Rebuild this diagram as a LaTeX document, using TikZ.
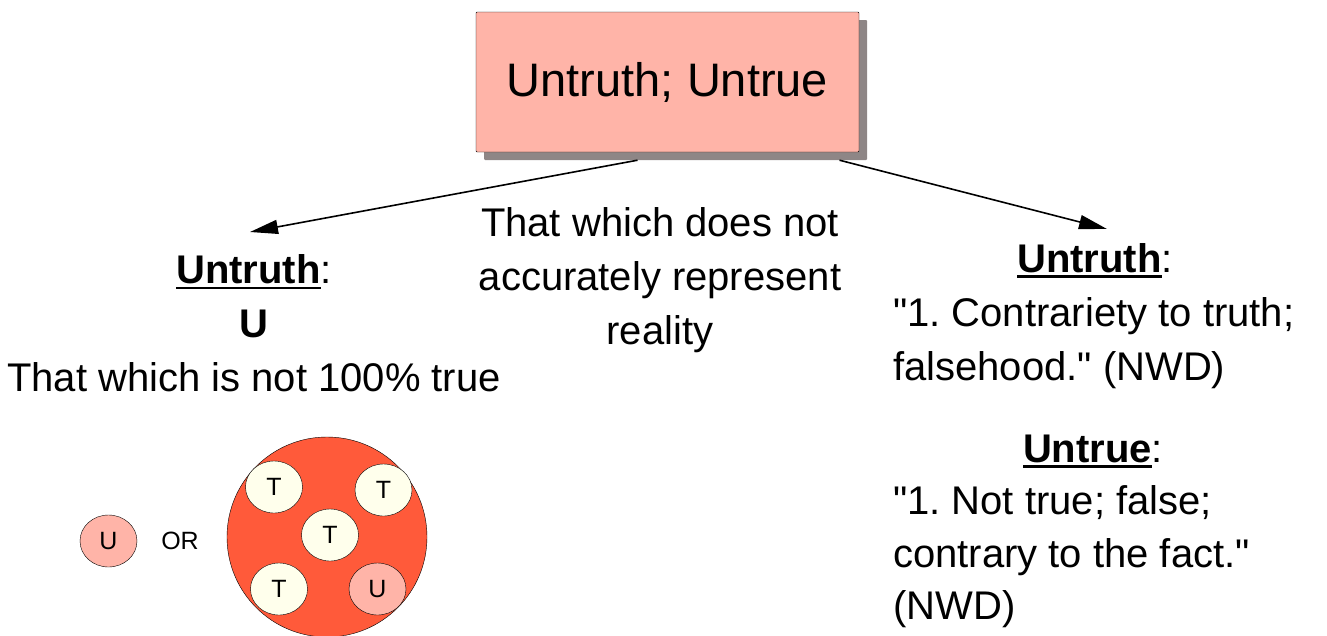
\documentclass[tikz,border=0pt]{standalone}
\usepackage{fontspec}
\setmainfont{Liberation Sans}
\usetikzlibrary{arrows.meta,shapes.geometric,shadows}
\definecolor{boxfill}{RGB}{255,180,168}
\definecolor{boxshadow}{RGB}{142,134,134}
\definecolor{setred}{RGB}{255,90,58}
\definecolor{truefill}{RGB}{255,255,236}
\newcommand\ulhead[1]{\setbox0\hbox{\bfseries #1}\rlap{\rule[-6pt]{\wd0}{2.6pt}}\box0}

\begin{document}
\begin{tikzpicture}[x=1pt,y=-1pt,
  title/.style = {draw, fill=boxfill, minimum width=383pt, minimum height=140pt,
    rounded corners=1pt,
    drop shadow={shadow xshift=8pt,shadow yshift=-8pt,fill=boxshadow,opacity=1},
    font=\fontsize{47}{56}\selectfont},
  body/.style = {font=\fontsize{40}{54}\selectfont\frenchspacing, inner sep=0pt},
  conn/.style = {line width=1.6pt, -{Triangle[length=28pt,width=14pt]}},
  smalltext/.style = {font=\fontsize{25}{30}\selectfont, inner sep=0pt},
  elem/.style = {ellipse, draw, thin, minimum width=57pt, minimum height=52pt,
    inner sep=0pt, font=\fontsize{25}{30}\selectfont},
  ]
  \useasboundingbox (0,0) rectangle (1327,635);

  \node[title] (top) at (667.5,82) {Untruth; Untrue};

  \coordinate (lefttip) at (250,232);
  \coordinate (righttip) at (1107,229);
  \draw[conn] ([shift={(-30,8)}]top.south) -- (lefttip);
  \draw[conn] ([shift={(172,8)}]top.south) -- (righttip);

  \node[body, align=center] (meaning) at (660,280)
    {That which does not\\accurately represent\\reality};

  \node[body, align=center] (leftdef) at (254,323)
    {\ulhead{Untruth}:\\\bfseries U\\That which is not 100\% true};

  \node[body, anchor=base] (rhead1) at (1095,272) {\ulhead{Untruth}:};
  \node[body, anchor=base west] (rdef1a) at (893,326) {\textquotedbl1. Contrariety to truth;};
  \node[body, anchor=base west] (rdef1b) at (893,380) {falsehood.\textquotedbl{} (NWD)};
  \node[body, anchor=base] (rhead2) at (1093,462) {\ulhead{Untrue}:};
  \node[body, anchor=base west] (rdef2a) at (893,514) {\textquotedbl1. Not true; false;};
  \node[body, anchor=base west] (rdef2b) at (893,567) {contrary to the fact.\textquotedbl};
  \node[body, anchor=base west] (rdef2c) at (893,619) {(NWD)};

  \node[elem, fill=boxfill] (single) at (108.5,541) {U};
  \node[smalltext] (or) at (180,541) {OR};
  \node[circle, draw, thin, fill=setred, minimum size=200pt, inner sep=0pt] (whole) at (327,537) {};
  \node[elem, fill=truefill] (ta) at (274,487) {T};
  \node[elem, fill=truefill] (tb) at (383.5,490) {T};
  \node[elem, fill=truefill] (tc) at (330,535) {T};
  \node[elem, fill=truefill] (td) at (279,589) {T};
  \node[elem, fill=boxfill] (ua) at (377.5,589) {U};
\end{tikzpicture}
\end{document}
